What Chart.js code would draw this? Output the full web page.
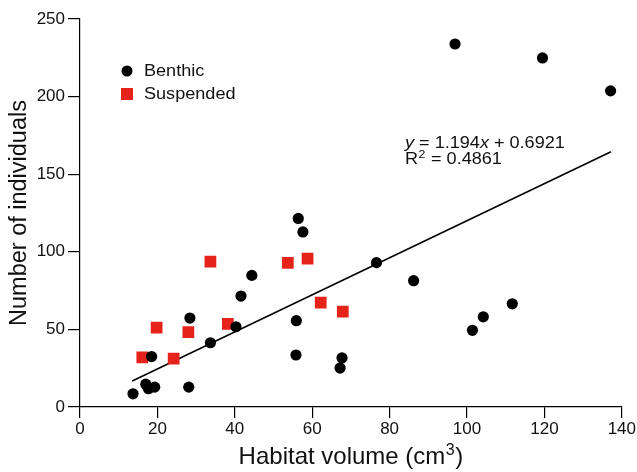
<!DOCTYPE html>
<html>
<head>
<meta charset="utf-8">
<script src="https://cdn.jsdelivr.net/npm/chart.js@4.4.1/dist/chart.umd.min.js"></script>
<style>
    html, body { margin: 0; padding: 0; background: #fff; }
    #wrap { width: 637px; height: 472px; }
</style>
</head>
<body>
<div id="wrap"><canvas id="chart" width="637" height="472"></canvas></div>
<script>
// Habitat volume vs number of individuals
const benthicX = [13.7, 17.0, 17.7, 19.3, 18.5, 28.1, 28.4, 33.7, 40.3, 41.6, 44.4, 56.4, 57.6, 55.9, 55.8, 67.7, 67.2, 76.6, 86.2, 101.4, 104.2, 111.7, 96.9, 119.5, 137.1];
const benthicY = [8.5, 14.7, 11.8, 12.8, 32.5, 12.8, 57.3, 41.4, 51.7, 71.5, 84.8, 121.5, 112.8, 55.6, 33.5, 31.6, 25.1, 93.0, 81.4, 49.4, 58.1, 66.5, 233.9, 224.9, 203.7];

const suspendedX = [16.1, 19.8, 24.2, 28.0, 33.7, 38.2, 53.7, 58.8, 62.2, 67.9];
const suspendedY = [32.0, 51.1, 31.1, 48.3, 93.6, 53.5, 92.8, 95.6, 67.2, 61.4];

// fitted line end points as drawn
const trendX = [13.5, 137.2];
const trendY = [16.8, 164.5];

const xTicks = [0, 20, 40, 60, 80, 100, 120, 140];
const yTicks = [0, 50, 100, 150, 200, 250];

const equationText = ['y', ' = 1.194', 'x', ' + 0.6921'];
const r2Text = '0.4861';

const FONT = "'Liberation Sans', Arial, Helvetica, sans-serif";
const RED = '#e5231b';
const STRETCH = 1.13; // the original's lettering runs a bit wide

const toPoints = (xs, ys) => xs.map((x, i) => ({ x: x, y: ys[i] }));

// fillText with a horizontal stretch, returns advance width
function wideText(ctx, text, x, y) {
    ctx.save();
    ctx.translate(x, y);
    ctx.scale(STRETCH, 1);
    ctx.fillText(text, 0, 0);
    const w = ctx.measureText(text).width * STRETCH;
    ctx.restore();
    return w;
}

// legend, equation and x title drawn by hand
const overlayPlugin = {
    id: 'overlay',
    afterDraw(chart) {
        const ctx = chart.ctx;
        const area = chart.chartArea;
        ctx.save();
        ctx.textBaseline = 'middle';
        ctx.fillStyle = '#111';

        // legend
        const lx = area.left + 47;
        const ly = area.top + 52;
        ctx.beginPath();
        ctx.arc(lx, ly, 5.5, 0, Math.PI * 2);
        ctx.fillStyle = '#000';
        ctx.fill();
        ctx.fillStyle = RED;
        ctx.fillRect(lx - 6, ly + 23 - 6, 12, 12);
        ctx.fillStyle = '#111';
        ctx.font = '16px ' + FONT;
        wideText(ctx, 'Benthic', lx + 17, ly + 1);
        wideText(ctx, 'Suspended', lx + 17, ly + 24);

        // regression equation
        const ex = area.left + 325;
        let ey = area.top + 125;
        let x = ex;
        equationText.forEach((part, i) => {
            ctx.font = (i % 2 === 0 ? 'italic ' : '') + '16px ' + FONT;
            x += wideText(ctx, part, x, ey);
        });
        ey += 16;
        ctx.font = '16px ' + FONT;
        x = ex + wideText(ctx, 'R', ex, ey);
        ctx.font = '11px ' + FONT;
        x += wideText(ctx, '2', x + 0.5, ey - 5) + 1;
        ctx.font = '16px ' + FONT;
        wideText(ctx, ' = ' + r2Text, x, ey);

        // x axis title with superscript
        ctx.font = '24px ' + FONT;
        const main = 'Habitat volume (cm';
        const wMain = ctx.measureText(main).width;
        const wClose = ctx.measureText(')').width;
        ctx.font = '16px ' + FONT;
        const wSup = ctx.measureText('3').width;
        const tx = (area.left + area.right) / 2 - (wMain + wSup + wClose + 1) / 2;
        const ty = area.bottom + 50;
        ctx.font = '24px ' + FONT;
        ctx.fillText(main, tx, ty);
        ctx.font = '16px ' + FONT;
        ctx.fillText('3', tx + wMain + 0.5, ty - 6);
        ctx.font = '24px ' + FONT;
        ctx.fillText(')', tx + wMain + wSup + 1, ty);
        ctx.restore();
    }
};

const ctx = document.getElementById('chart').getContext('2d');
new Chart(ctx, {
    type: 'scatter',
    data: {
        datasets: [
            {
                label: 'Fit',
                type: 'line',
                data: toPoints(trendX, trendY),
                borderColor: '#000',
                borderWidth: 1.6,
                pointRadius: 0,
                fill: false,
                order: 3
            },
            {
                label: 'Suspended',
                data: toPoints(suspendedX, suspendedY),
                pointStyle: 'rect',
                pointRadius: 8.3,
                backgroundColor: RED,
                borderWidth: 0,
                order: 2
            },
            {
                label: 'Benthic',
                data: toPoints(benthicX, benthicY),
                pointStyle: 'circle',
                pointRadius: 5.6,
                backgroundColor: '#000',
                borderWidth: 0,
                order: 1
            }
        ]
    },
    options: {
        responsive: false,
        animation: false,
        layout: { padding: { top: 19, right: 15, left: 0, bottom: 0 } },
        plugins: {
            legend: { display: false },
            tooltip: { enabled: false }
        },
        scales: {
            x: {
                type: 'linear',
                min: 0,
                max: 140,
                afterBuildTicks: (scale) => { scale.ticks = xTicks.map(v => ({ value: v })); },
                afterFit: (scale) => { scale.height = 65; },
                border: { display: true, color: '#000', width: 1.2 },
                grid: { drawOnChartArea: false, drawTicks: true, tickLength: 11, color: '#000', lineWidth: 1.2 },
                ticks: { color: '#111', font: { family: FONT, size: 17 }, padding: 1, maxRotation: 0 },
                title: { display: false }
            },
            y: {
                type: 'linear',
                min: 0,
                max: 250,
                afterBuildTicks: (scale) => { scale.ticks = yTicks.map(v => ({ value: v })); },
                afterFit: (scale) => { scale.width = 80; },
                border: { display: true, color: '#000', width: 1.2 },
                grid: { drawOnChartArea: false, drawTicks: true, tickLength: 12, color: '#000', lineWidth: 1.2 },
                ticks: { color: '#111', font: { family: FONT, size: 17 }, padding: 3 },
                title: { display: true, text: 'Number of individuals', color: '#111', font: { family: FONT, size: 23.5 }, padding: { top: 5, bottom: 0 } }
            }
        }
    },
    plugins: [overlayPlugin]
});
</script>
</body>
</html>
